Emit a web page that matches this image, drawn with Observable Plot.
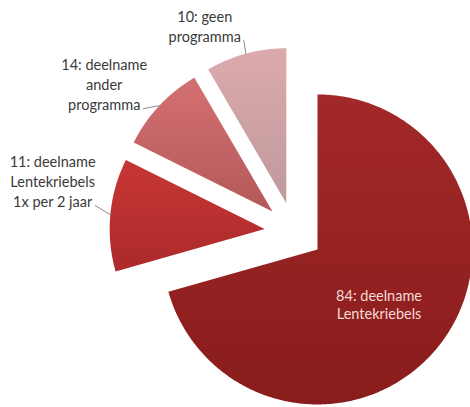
<!DOCTYPE html>
<html>
<head>
<meta charset="utf-8">
<script src="https://cdn.jsdelivr.net/npm/d3@7"></script>
<script src="https://cdn.jsdelivr.net/npm/@observablehq/plot@0.6"></script>
<style>
  html, body { margin: 0; padding: 0; background: #ffffff; }
  #chart svg { display: block; }
</style>
</head>
<body>
<div id="chart"></div>
<script>
// ---- data ----
// Label texts exactly as printed in the reference
const labels = [
  "84: deelname\nLentekriebels",
  "11: deelname\nLentekriebels\n1x per 2 jaar",
  "14: deelname\nander\nprogramma",
  "10: geen\nprogramma"
];
// Slice sizes as drawn in the reference (clockwise from 12 o'clock);
// the drawn bottom-left slice is the larger of the two middle slices.
const values = [84, 14, 11, 10];

// ---- styles ----
const gradTop    = ["#a32828", "#c83636", "#d47072", "#dcaaac"];
const gradBottom = ["#891c1c", "#ac2a2a", "#b4585a", "#bf999c"];
const textColor = "#3a3a3a";
const insideTextColor = "#f6dad6";
const fontFamily = "Lato, 'Liberation Sans', sans-serif";
const fontSize = 14.5;
const lineH = 20;

// ---- layout ----
const W = 470, H = 407;
const R = 155;                    // radius in px
const O = {x: 293.5, y: 231.2};   // pie centre in px
const explode = 0.19;             // explosion as fraction of radius
const labelNudge = [[-4, 5], [-18, -14], [-19, -2], [-5, -18]];

const arcs = d3.pie().sort(null).value(d => d)(values);

// slice polygons in radius units (y up)
const polys = [];
arcs.forEach((a, i) => {
  const m = (a.startAngle + a.endAngle) / 2;
  const ox = explode * Math.sin(m), oy = explode * Math.cos(m);
  const g = `url(#grad${i})`;
  polys.push({k: i, x: ox, y: oy, fill: g});
  const n = Math.max(2, Math.ceil((a.endAngle - a.startAngle) / (Math.PI / 360)));
  for (let j = 0; j <= n; j++) {
    const t = a.startAngle + (a.endAngle - a.startAngle) * j / n;
    polys.push({k: i, x: ox + Math.sin(t), y: oy + Math.cos(t), fill: g});
  }
  polys.push({k: i, x: ox, y: oy, fill: g});
});

// helpers px -> units
const toUx = px => (px - O.x) / R;
const toUy = py => (O.y - py) / R;

const ctx = document.createElement("canvas").getContext("2d");
ctx.font = `${fontSize}px Lato`;

const textItems = [];
const leaders = [];
arcs.forEach((a, i) => {
  const m = (a.startAngle + a.endAngle) / 2;
  const sx = Math.sin(m), sy = -Math.cos(m); // screen direction
  const cxp = O.x + explode * R * sx, cyp = O.y + explode * R * sy;
  const lines = labels[i].split("\n");
  if (i === 0) {
    const px = cxp + 0.53 * R * sx + labelNudge[i][0];
    const py = cyp + 0.53 * R * sy + labelNudge[i][1];
    textItems.push({x: toUx(px), y: toUy(py), text: labels[i], inside: true});
  } else {
    const Px = cxp + R * sx, Py = cyp + R * sy;
    const rightEnd = Px + labelNudge[i][0];
    const lastC = Py + labelNudge[i][1];
    const lastW = ctx.measureText(lines[lines.length - 1]).width;
    const bx = rightEnd - lastW / 2;
    const by = lastC - (lines.length - 1) * lineH / 2;
    textItems.push({x: toUx(bx), y: toUy(by), text: labels[i], inside: false});
    leaders.push({k: i, x: toUx(rightEnd + 3), y: toUy(lastC + 5)});
    leaders.push({k: i, x: toUx(Px), y: toUy(Py)});
  }
});

const svg = Plot.plot({
  width: W,
  height: H,
  margin: 0,
  style: {background: "#ffffff", fontFamily},
  x: {domain: [toUx(0), toUx(W)], axis: null},
  y: {domain: [toUy(H), toUy(0)], axis: null},
  color: {type: "identity"},
  marks: [
    Plot.line(polys, {x: "x", y: "y", z: "k", fill: "fill", stroke: "none", curve: "linear"}),
    Plot.line(leaders, {x: "x", y: "y", z: "k", stroke: "#8a8a8a", strokeWidth: 1}),
    Plot.text(textItems.filter(d => !d.inside), {
      x: "x", y: "y", text: "text", fill: textColor,
      fontSize, fontFamily, textAnchor: "middle", lineAnchor: "middle", lineHeight: lineH / fontSize
    }),
    Plot.text(textItems.filter(d => d.inside), {
      x: "x", y: "y", text: "text", fill: insideTextColor,
      fontSize, fontFamily, textAnchor: "middle", lineAnchor: "middle", lineHeight: 18 / fontSize
    })
  ]
});

const defs = d3.select(svg).insert("defs", ":first-child");
values.forEach((v, i) => {
  const lg = defs.append("linearGradient")
    .attr("id", `grad${i}`).attr("x1", 0).attr("y1", 0).attr("x2", 0).attr("y2", 1);
  lg.append("stop").attr("offset", "0%").attr("stop-color", gradTop[i]);
  lg.append("stop").attr("offset", "100%").attr("stop-color", gradBottom[i]);
});

document.getElementById("chart").appendChild(svg);
</script>
</body>
</html>
